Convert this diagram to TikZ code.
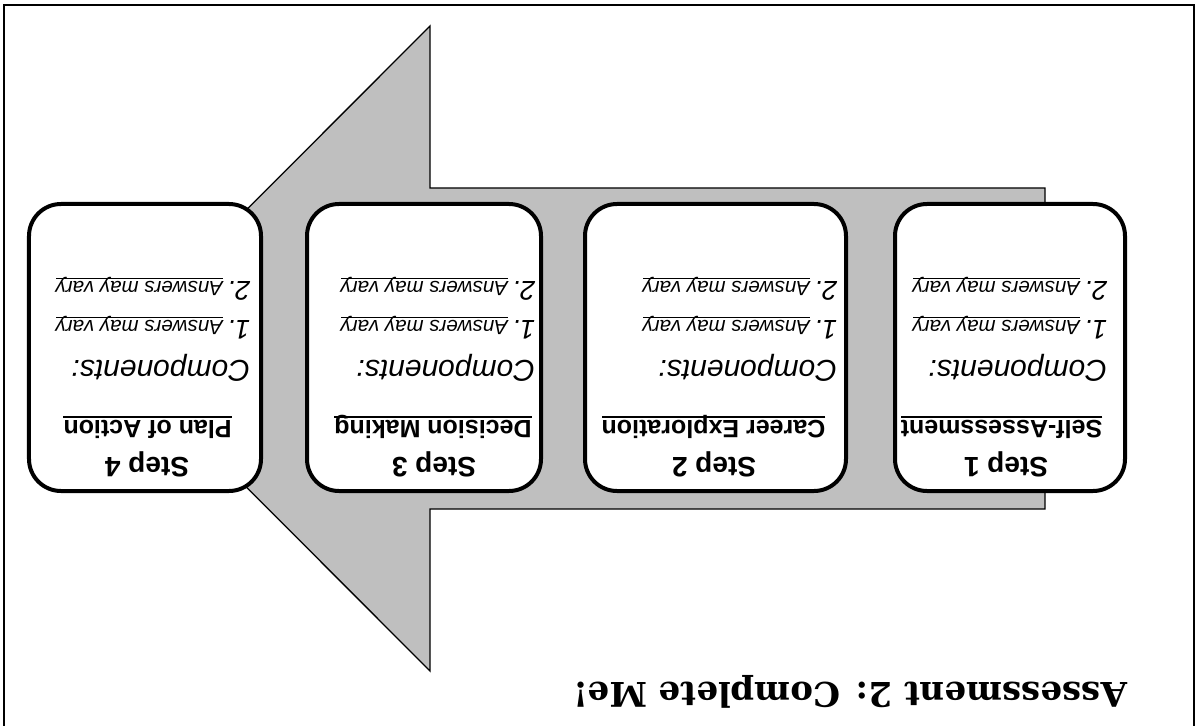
\documentclass[tikz,border=0pt]{standalone}
\usepackage{fontspec}
\newfontfamily\boxfont{Liberation Sans}
\newfontfamily\titlefont{DejaVu Serif}
\definecolor{arrowgray}{RGB}{191,191,191}
\begin{document}
\begin{tikzpicture}[x=1bp,y=-1bp,
  frame/.style={draw=black, line width=2bp},
  arrowshape/.style={draw=black, line width=1.3bp, fill=arrowgray, line join=miter},
  stepbox/.style={draw=black, line width=4bp, fill=white, rounded corners=32bp,
    minimum height=287bp, inner sep=0pt},
  flip/.style={rotate=180, inner sep=0pt, outer sep=0pt},
  steptitle/.style={flip, anchor=base, font=\boxfont\bfseries\fontsize{28bp}{32bp}\selectfont},
  heading/.style={flip, anchor=base, font=\boxfont\bfseries\fontsize{25bp}{29bp}\selectfont},
  comp/.style={flip, anchor=base west, font=\boxfont\itshape\fontsize{30bp}{34bp}\selectfont},
  num/.style={flip, anchor=base west, font=\boxfont\itshape\fontsize{27bp}{31bp}\selectfont},
  answer/.style={flip, anchor=base west, font=\boxfont\itshape\fontsize{20.5bp}{24bp}\selectfont},
  headline/.style={line width=1.5bp},
  answerline/.style={line width=1bp},
  titletext/.style={flip, anchor=base west, font=\titlefont\bfseries\fontsize{34bp}{40bp}\selectfont},
]
\useasboundingbox (0,0) rectangle (1197,726);
\clip (0,0) rectangle (1197,726);

% outer frame (runs past the lower edge)
\draw[frame] (4,5) rectangle (1194,760);

% big grey arrow pointing left
\draw[arrowshape] (108,348.5) -- (430,26) -- (430,188) -- (1045,188)
  -- (1045,509) -- (430,509) -- (430,671) -- cycle;

% the four step cards, set upside down
\foreach \i/\bx/\bw/\sx/\hx/\lx/\head in {
  1/1010/230/1006/1001.5/1107/Self-Assessment,
  2/715.5/261/714/713.5/837/Career Exploration,
  3/424/234/434/433/535/Decision Making,
  4/145/232/147/147.5/250/Plan of Action}{
  \node[stepbox, minimum width=\bw bp] (box\i) at (\bx,347.5) {};
  \node[steptitle] (step\i) at (\sx,457) {Step \i};
  \node[heading] (head\i) at (\hx,420) {\head};
  \draw[headline] ([yshift=3bp]head\i.base west) -- ([yshift=3bp]head\i.base east);
  \node[comp] (comp\i) at (\lx,360) {Components:};
  \node[num] (numa\i) at (\lx,320.5) {1.\,};
  \node[answer] (ansa\i) at (numa\i.base east) {Answers may vary};
  \draw[answerline] ([yshift=3.5bp]ansa\i.base west) -- ([yshift=3.5bp]ansa\i.base east);
  \node[num] (numb\i) at (\lx,281.5) {2.\,};
  \node[answer] (ansb\i) at (numb\i.base east) {Answers may vary};
  \draw[answerline] ([yshift=3.5bp]ansb\i.base west) -- ([yshift=3.5bp]ansb\i.base east);
}

\node[titletext] (title) at (1127,682) {Assessment 2: Complete Me!};
\end{tikzpicture}
\end{document}
